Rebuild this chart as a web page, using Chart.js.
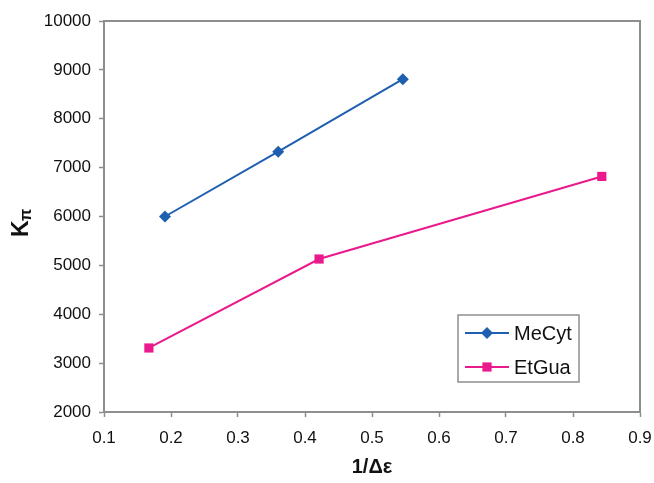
<!DOCTYPE html>
<html>
<head>
<meta charset="utf-8">
<script src="https://cdn.jsdelivr.net/npm/chart.js@4.4.1/dist/chart.umd.min.js"></script>
<style>
    body { margin: 0; background: #fff; }
</style>
</head>
<body>
<canvas id="kpi" width="654" height="483"></canvas>
<script>
const seriesNames = ['MeCyt', 'EtGua'];
const meCytX = [0.191, 0.360, 0.546];
const meCytY = [6000, 7325, 8810];
const etGuaX = [0.167, 0.421, 0.843];
const etGuaY = [3310, 5130, 6820];
const xTicks = [0.1, 0.2, 0.3, 0.4, 0.5, 0.6, 0.7, 0.8, 0.9];
const yTicks = [2000, 3000, 4000, 5000, 6000, 7000, 8000, 9000, 10000];

const FONT = '"Liberation Sans", Arial, sans-serif';
const AXIS = '#8e8e8e';
const BLUE = '#1f5faf';
const PINK = '#ea1a8c';

const toPoints = (xs, ys) => xs.map((x, i) => ({ x: x, y: ys[i] }));

// frame round the plot, axis titles and the boxed legend
const extras = {
    id: 'extras',
    afterDraw(chart) {
        const ctx = chart.ctx;
        const a = chart.chartArea;
        ctx.save();
        ctx.strokeStyle = AXIS;
        ctx.lineWidth = 2;
        ctx.beginPath();
        ctx.moveTo(a.left, a.top);
        ctx.lineTo(a.right, a.top);
        ctx.lineTo(a.right, a.bottom);
        ctx.stroke();

        ctx.fillStyle = '#111';
        ctx.textBaseline = 'middle';
        ctx.textAlign = 'center';
        ctx.font = 'bold 20px ' + FONT;
        ctx.fillText('1/\u0394\u03b5', (a.left + a.right) / 2, 467);

        ctx.translate(22, 222);
        ctx.rotate(-Math.PI / 2);
        ctx.textAlign = 'left';
        ctx.font = 'bold 23px ' + FONT;
        ctx.fillText('K', -15, 0);
        ctx.font = 'bold 16px ' + FONT;
        ctx.fillText('\u03c0', 1, 5);
        ctx.restore();

        // legend
        ctx.save();
        const lx = 458, ly = 315, lw = 121, lh = 67;
        ctx.fillStyle = '#fff';
        ctx.fillRect(lx, ly, lw, lh);
        ctx.strokeStyle = AXIS;
        ctx.lineWidth = 1.5;
        ctx.strokeRect(lx, ly, lw, lh);
        chart.data.datasets.forEach((ds, i) => {
            const y = ly + 18 + i * 34;
            ctx.strokeStyle = ds.borderColor;
            ctx.lineWidth = 2;
            ctx.beginPath();
            ctx.moveTo(lx + 7, y);
            ctx.lineTo(lx + 51, y);
            ctx.stroke();
            ctx.fillStyle = ds.backgroundColor;
            Chart.helpers.drawPoint(ctx, {
                pointStyle: ds.pointStyle,
                radius: ds.pointRadius,
                borderWidth: 0
            }, lx + 29, y);
            ctx.fillStyle = '#111';
            ctx.font = '20px ' + FONT;
            ctx.textAlign = 'left';
            ctx.textBaseline = 'middle';
            ctx.fillText(ds.label, lx + 56, y + 1);
        });
        ctx.restore();
    }
};

new Chart(document.getElementById('kpi'), {
    type: 'scatter',
    data: {
        datasets: [
            {
                label: seriesNames[0],
                data: toPoints(meCytX, meCytY),
                showLine: true,
                borderColor: BLUE,
                backgroundColor: BLUE,
                borderWidth: 2,
                pointStyle: 'rectRot',
                pointRadius: 6,
                pointBorderWidth: 0
            },
            {
                label: seriesNames[1],
                data: toPoints(etGuaX, etGuaY),
                showLine: true,
                borderColor: PINK,
                backgroundColor: PINK,
                borderWidth: 2,
                pointStyle: 'rect',
                pointRadius: 6.5,
                pointBorderWidth: 0
            }
        ]
    },
    options: {
        responsive: false,
        animation: false,
        layout: {
            padding: { top: 21, right: 14, left: 0, bottom: 0 }
        },
        scales: {
            x: {
                type: 'linear',
                min: xTicks[0],
                max: xTicks[xTicks.length - 1],
                afterBuildTicks: (scale) => { scale.ticks = xTicks.map(v => ({ value: v })); },
                afterFit: (scale) => {
                    scale.height = 71;
                    scale.paddingLeft = 0;
                    scale.paddingRight = 0;
                },
                border: { color: AXIS, width: 2 },
                grid: { drawOnChartArea: false, color: AXIS, tickLength: 5, tickWidth: 1.5 },
                ticks: {
                    color: '#111',
                    padding: 11,
                    font: { family: FONT, size: 17 },
                    callback: (v) => v.toFixed(1)
                }
            },
            y: {
                min: yTicks[0],
                max: yTicks[yTicks.length - 1],
                afterBuildTicks: (scale) => { scale.ticks = yTicks.map(v => ({ value: v })); },
                afterFit: (scale) => {
                    scale.width = 104;
                    scale.paddingTop = 0;
                    scale.paddingBottom = 0;
                },
                border: { color: AXIS, width: 2 },
                grid: { drawOnChartArea: false, color: AXIS, tickLength: 5, tickWidth: 1.5 },
                ticks: {
                    color: '#111',
                    padding: 8,
                    font: { family: FONT, size: 17 },
                    callback: (v) => String(v)
                }
            }
        },
        plugins: {
            legend: { display: false },
            tooltip: { enabled: false }
        }
    },
    plugins: [extras]
});
</script>
</body>
</html>
